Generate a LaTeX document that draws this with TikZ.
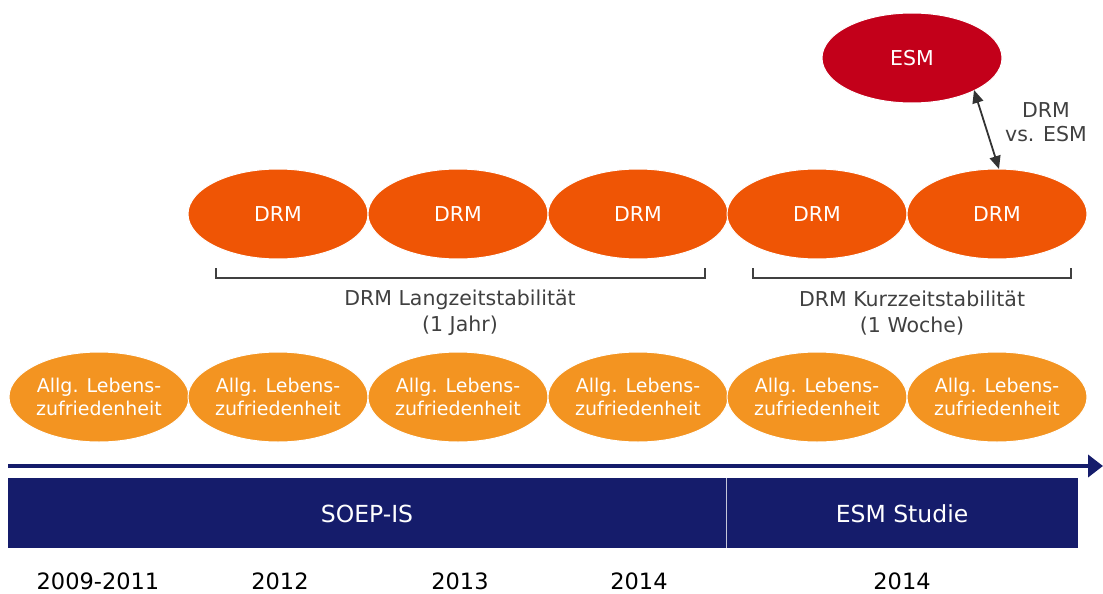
\documentclass[tikz,border=0pt]{standalone}
\usepackage{fontspec}
\setmainfont{DejaVu Sans}
\usetikzlibrary{arrows.meta,shapes.geometric}
\definecolor{drmor}{RGB}{239,85,5}
\definecolor{lzor}{RGB}{243,148,33}
\definecolor{esmred}{RGB}{195,0,26}
\definecolor{navy}{RGB}{21,28,107}
\definecolor{txtgray}{RGB}{64,64,64}
\tikzset{
  oval/.style={ellipse, minimum width=180pt, minimum height=90pt, inner sep=0pt, draw=white, line width=1pt, text=white, align=center},
  drmoval/.style={oval, fill=drmor, font=\fontsize{20.5}{24}\selectfont},
  lzoval/.style={oval, fill=lzor, font=\fontsize{19}{23}\selectfont},
  esmoval/.style={oval, fill=esmred, font=\fontsize{20.5}{24}\selectfont},
  bracket/.style={draw=txtgray, line width=1.2pt},
  brtext/.style={align=center, text=txtgray, font=\fontsize{20.5}{26}\selectfont},
  bartext/.style={text=white, font=\fontsize{23.5}{26}\selectfont},
  yeartext/.style={text=black, font=\fontsize{22.5}{26}\selectfont},
}
\begin{document}
\begin{tikzpicture}[x=1pt,y=-1pt]
\useasboundingbox (0,0) rectangle (1103,594);
% top ESM
\node[esmoval] (esm) at (912,58) {ESM};
% DRM row
\foreach \i/\x in {1/278,2/458,3/638,4/817,5/997}{
  \node[drmoval] (d\i) at (\x,214) {DRM};
}
% Allg. row
\foreach \i/\x in {1/99,2/278,3/458,4/638,5/817,6/997}{
  \node[lzoval] (a\i) at (\x,397) {Allg. Lebens-\\zufriedenheit};
}
% double arrow
\coordinate (e1) at (974,90);
\coordinate (e2) at (999,169);
\draw[{Triangle[length=13pt,width=11pt]}-{Triangle[length=13pt,width=11pt]}, line width=1.8pt, draw=black!80] (e1) -- (e2);
\node[brtext, font=\fontsize{20.5}{24}\selectfont] (vs) at (1046,122) {DRM\\vs. ESM};
% brackets
\draw[bracket] (216,268) -- (216,278) -- (705,278) -- (705,268);
\node[brtext] (lz) at (460,313) {DRM Langzeitstabilität\\(1 Jahr)};
\draw[bracket] (753,268) -- (753,278) -- (1071,278) -- (1071,268);
\node[brtext] (kz) at (912,313) {DRM Kurzzeitstabilität\\(1 Woche)};
% timeline arrow
\coordinate (t0) at (8,466);
\coordinate (t1) at (1103,466);
\draw[navy, line width=4pt, -{Triangle[length=15pt,width=22pt]}] (t0) -- (t1);
% bar
\fill[navy] (8,478) rectangle (1078,548);
\draw[white!75!navy, line width=1pt] (726,478) -- (726,548);
\node[bartext] (soep) at (367,514) {SOEP-IS};
\node[bartext] (esmst) at (902,514) {ESM Studie};
% years
\node[yeartext] (y1) at (98,581) {2009-2011};
\node[yeartext] (y2) at (280,581) {2012};
\node[yeartext] (y3) at (460,581) {2013};
\node[yeartext] (y4) at (639,581) {2014};
\node[yeartext] (y5) at (902,581) {2014};
\end{tikzpicture}
\end{document}
